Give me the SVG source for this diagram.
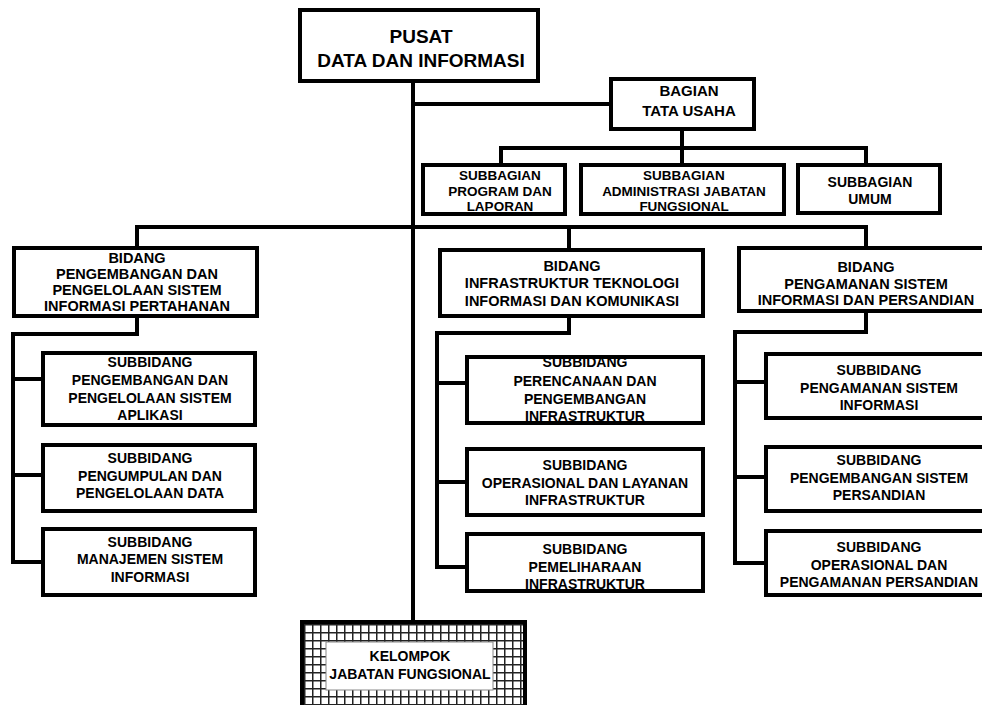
<svg xmlns="http://www.w3.org/2000/svg" width="982" height="705" viewBox="0 0 982 705">
<defs>
<style>
.box{fill:#fff;stroke:#000;stroke-width:4}
.conn{fill:none;stroke:#000;stroke-width:4;stroke-linecap:square;stroke-linejoin:miter}
.t{font-family:"Liberation Sans",Arial,sans-serif;font-weight:bold;text-anchor:middle;fill:#000}
.f19{font-size:19px}
.f15{font-size:15px}
.f145{font-size:14.5px}
.f14{font-size:14px}
.f135{font-size:13.5px}
</style>
<pattern id="grid" width="8" height="8" patternUnits="userSpaceOnUse">
<rect width="8" height="8" fill="#fff"/>
<path d="M0 0.75H8M0.75 0V8" stroke="#222" stroke-width="1.5"/>
</pattern>
</defs>
<rect width="982" height="705" fill="#fff"/>

<g id="connectors">
<path class="conn" d="M413 82V620"/>
<path class="conn" d="M413 104H609"/>
<path class="conn" d="M682 131V148"/>
<path class="conn" d="M501 163V148H866V163"/>
<path class="conn" d="M682 148V163"/>
<path class="conn" d="M137 246V227H866V246"/>
<path class="conn" d="M569 227V248"/>
<path class="conn" d="M137 318V334H13V562H41"/>
<path class="conn" d="M13 379H41M13 475H41"/>
<path class="conn" d="M569 318V333H437V567H465"/>
<path class="conn" d="M437 383H465M437 482H465"/>
<path class="conn" d="M866 313V332H735V563H764"/>
<path class="conn" d="M735 382H764M735 477H764"/>
</g>

<g id="pusat">
<rect class="box" x="300" y="10" width="238" height="71"/>
<text class="t f19" x="421" y="43">PUSAT</text>
<text class="t f19" x="421" y="67">DATA DAN INFORMASI</text>
</g>

<g id="bagian-tu">
<rect class="box" x="611" y="79" width="143" height="50"/>
<text class="t f15" x="689" y="96">BAGIAN</text>
<text class="t f15" x="689" y="116">TATA USAHA</text>
</g>

<g id="subbag-program">
<rect class="box" x="423" y="165" width="142" height="49"/>
<text class="t f135" x="500" y="180">SUBBAGIAN</text>
<text class="t f135" x="500" y="195.5">PROGRAM DAN</text>
<text class="t f135" x="500" y="211">LAPORAN</text>
</g>

<g id="subbag-admin">
<rect class="box" x="581" y="165" width="203" height="49"/>
<text class="t f135" x="684" y="180">SUBBAGIAN</text>
<text class="t f135" x="684" y="195.5">ADMINISTRASI JABATAN</text>
<text class="t f135" x="684" y="211">FUNGSIONAL</text>
</g>

<g id="subbag-umum">
<rect class="box" x="798" y="165" width="142" height="48"/>
<text class="t f14" x="870" y="187">SUBBAGIAN</text>
<text class="t f14" x="870" y="204">UMUM</text>
</g>

<g id="bidang-psi">
<rect class="box" x="14" y="248" width="243" height="68"/>
<text class="t f145" x="137" y="263">BIDANG</text>
<text class="t f145" x="137" y="279">PENGEMBANGAN DAN</text>
<text class="t f145" x="137" y="295">PENGELOLAAN SISTEM</text>
<text class="t f145" x="137" y="311">INFORMASI PERTAHANAN</text>
</g>

<g id="bidang-itk">
<rect class="box" x="440" y="250" width="263" height="66"/>
<text class="t f145" x="572" y="271">BIDANG</text>
<text class="t f145" x="572" y="288">INFRASTRUKTUR TEKNOLOGI</text>
<text class="t f145" x="572" y="306">INFORMASI DAN KOMUNIKASI</text>
</g>

<g id="bidang-psp">
<rect class="box" x="739" y="248" width="256" height="63"/>
<text class="t f145" x="866" y="272">BIDANG</text>
<text class="t f145" x="866" y="289">PENGAMANAN SISTEM</text>
<text class="t f145" x="866" y="305">INFORMASI DAN  PERSANDIAN</text>
</g>

<g id="subbid-aplikasi">
<rect class="box" x="43" y="353" width="212" height="72"/>
<text class="t f14" x="150" y="367">SUBBIDANG</text>
<text class="t f14" x="150" y="385">PENGEMBANGAN DAN</text>
<text class="t f14" x="150" y="403">PENGELOLAAN SISTEM</text>
<text class="t f14" x="150" y="420">APLIKASI</text>
</g>

<g id="subbid-data">
<rect class="box" x="43" y="445" width="212" height="66"/>
<text class="t f14" x="150" y="463">SUBBIDANG</text>
<text class="t f14" x="150" y="481">PENGUMPULAN DAN</text>
<text class="t f14" x="150" y="498">PENGELOLAAN DATA</text>
</g>

<g id="subbid-msi">
<rect class="box" x="43" y="529" width="212" height="66"/>
<text class="t f14" x="150" y="547">SUBBIDANG</text>
<text class="t f14" x="150" y="564">MANAJEMEN SISTEM</text>
<text class="t f14" x="150" y="582">INFORMASI</text>
</g>

<g id="subbid-perencanaan">
<rect class="box" x="467" y="357" width="236" height="66"/>
<text class="t f14" x="585" y="367">SUBBIDANG</text>
<text class="t f14" x="585" y="386">PERENCANAAN DAN</text>
<text class="t f14" x="585" y="404">PENGEMBANGAN</text>
<text class="t f14" x="585" y="421">INFRASTRUKTUR</text>
</g>

<g id="subbid-operasional">
<rect class="box" x="467" y="449" width="236" height="66"/>
<text class="t f14" x="585" y="470">SUBBIDANG</text>
<text class="t f14" x="585" y="488">OPERASIONAL DAN LAYANAN</text>
<text class="t f14" x="585" y="505">INFRASTRUKTUR</text>
</g>

<g id="subbid-pemeliharaan">
<rect class="box" x="467" y="534" width="236" height="57"/>
<text class="t f14" x="585" y="554">SUBBIDANG</text>
<text class="t f14" x="585" y="572">PEMELIHARAAN</text>
<text class="t f14" x="585" y="589">INFRASTRUKTUR</text>
</g>

<g id="subbid-pengamanan">
<rect class="box" x="766" y="354" width="230" height="64"/>
<text class="t f14" x="879" y="375">SUBBIDANG</text>
<text class="t f14" x="879" y="393">PENGAMANAN SISTEM</text>
<text class="t f14" x="879" y="410">INFORMASI</text>
</g>

<g id="subbid-persandian">
<rect class="box" x="766" y="447" width="230" height="64"/>
<text class="t f14" x="879" y="465">SUBBIDANG</text>
<text class="t f14" x="879" y="483">PENGEMBANGAN SISTEM</text>
<text class="t f14" x="879" y="500">PERSANDIAN</text>
</g>

<g id="subbid-opspersandian">
<rect class="box" x="766" y="531" width="230" height="64"/>
<text class="t f14" x="879" y="552">SUBBIDANG</text>
<text class="t f14" x="879" y="570">OPERASIONAL DAN</text>
<text class="t f14" x="879" y="587">PENGAMANAN PERSANDIAN</text>
</g>

<g id="kelompok-jf">
<rect x="302" y="622" width="223" height="100" fill="url(#grid)" stroke="#000" stroke-width="4"/>
<rect x="326" y="642" width="167" height="48" fill="#fff" stroke="#888" stroke-width="1"/>
<text class="t f14" x="410" y="661">KELOMPOK</text>
<text class="t f14" x="410" y="679">JABATAN FUNGSIONAL</text>
</g>
</svg>
